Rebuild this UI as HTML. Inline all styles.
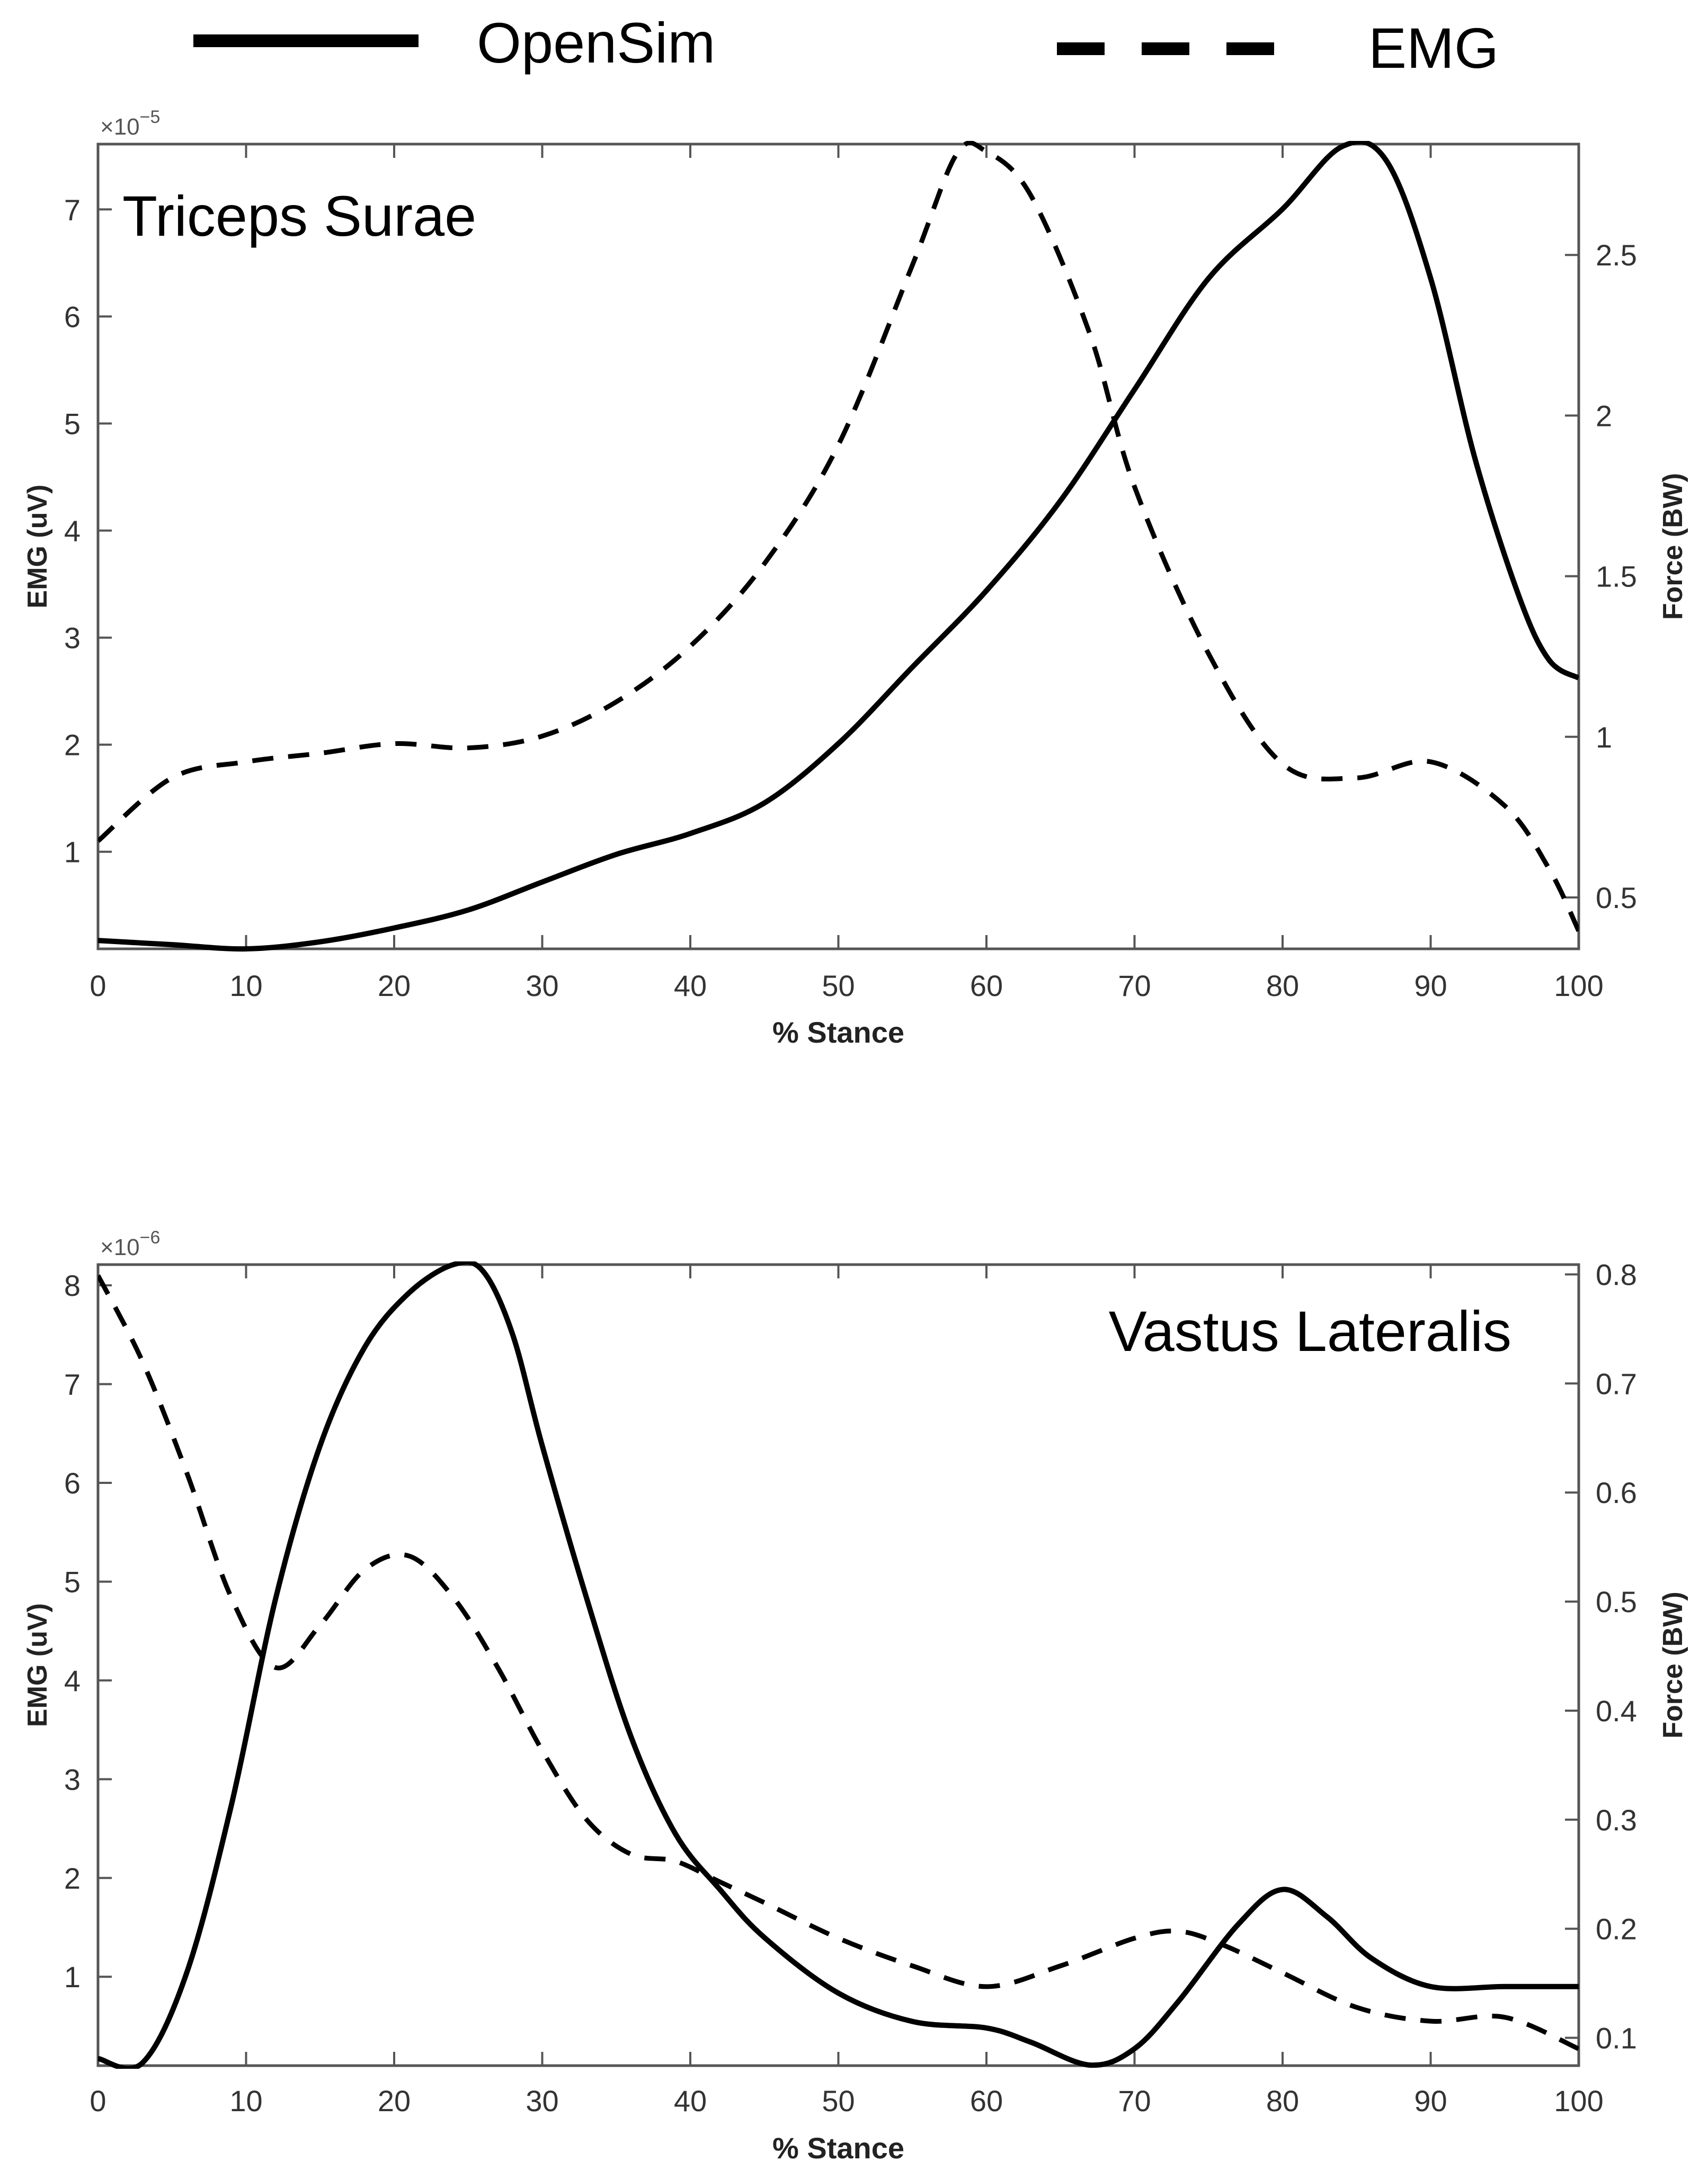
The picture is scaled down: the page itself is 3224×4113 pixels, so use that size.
<!DOCTYPE html>
<html><head><meta charset="utf-8"><style>
html,body{margin:0;padding:0;background:#fff;}
svg{display:block;font-family:"Liberation Sans",Arial,sans-serif;}
</style></head><body>
<svg id="fig" width="3224" height="4113" viewBox="0 0 3224 4113" xmlns="http://www.w3.org/2000/svg">
<g>
<line x1="365" y1="77" x2="790" y2="77" stroke="#000" stroke-width="24"/>
<text x="900" y="118" font-size="108">OpenSim</text>
<line x1="1995" y1="92" x2="2415" y2="92" stroke="#000" stroke-width="24" stroke-dasharray="90,70"/>
<text x="2583" y="128" font-size="108">EMG</text>
</g>
<g id="plots"></g>
</svg>
<script>
// ---- Data: Triceps Surae ----
const xTop = [0,5,10,15,20,25,30,35,40,45,50,55,60,65,70,75,80,84,87,90,93,96,98,100];
const forceTop = [0.366,0.353,0.340,0.362,0.405,0.461,0.548,0.634,0.699,0.794,0.979,1.217,1.455,1.735,2.081,2.427,2.643,2.837,2.794,2.427,1.865,1.433,1.239,1.183];
const xEmgTop = [0,5,10,15,20,25,30,35,40,45,50,55,58,60,63,67,70,75,80,85,90,95,98,100];
const emgTop = [1.10,1.69,1.84,1.92,2.01,1.97,2.08,2.40,2.92,3.69,4.80,6.48,7.52,7.54,7.13,5.83,4.41,2.85,1.82,1.69,1.84,1.43,0.84,0.26];
// ---- Data: Vastus Lateralis ----
const xBot = [0,3,6,9,12,15,18,21,24,26,28,30,33,36,39,42,45,50,55,60,63,67,70,73,77,80,83,86,90,95,100];
const forceBot = [0.081,0.077,0.160,0.313,0.503,0.643,0.733,0.783,0.809,0.803,0.745,0.643,0.503,0.376,0.287,0.236,0.192,0.141,0.115,0.109,0.096,0.075,0.090,0.134,0.204,0.236,0.211,0.173,0.147,0.147,0.147];
const xEmgBot = [0,3,6,9,12,15,18,21,24,27,30,33,36,39,42,45,50,55,60,65,70,73,76,80,85,90,95,100];
const emgBot = [8.10,7.23,6.10,4.84,4.13,4.56,5.12,5.26,4.84,4.13,3.29,2.59,2.24,2.17,1.96,1.75,1.39,1.11,0.90,1.11,1.39,1.46,1.32,1.04,0.69,0.55,0.59,0.27];
// ---- Tick labels ----
const xTicks = [0,10,20,30,40,50,60,70,80,90,100];
const leftTicksTop = [1,2,3,4,5,6,7];
const rightTicksTop = [0.5,1,1.5,2,2.5];
const leftTicksBot = [1,2,3,4,5,6,7,8];
const rightTicksBot = [0.1,0.2,0.3,0.4,0.5,0.6,0.7,0.8];

const NS="http://www.w3.org/2000/svg";
const root=document.getElementById('plots');
function mk(tag,attrs,parent){const e=document.createElementNS(NS,tag);for(const k in attrs)e.setAttribute(k,attrs[k]);(parent||root).appendChild(e);return e;}
function smooth(pts){let d='M'+pts[0][0]+','+pts[0][1];for(let i=0;i<pts.length-1;i++){const p0=pts[i-1]||pts[i],p1=pts[i],p2=pts[i+1],p3=pts[i+2]||p2;
d+=' C'+(p1[0]+(p2[0]-p0[0])/6)+','+(p1[1]+(p2[1]-p0[1])/6)+' '+(p2[0]-(p3[0]-p1[0])/6)+','+(p2[1]-(p3[1]-p1[1])/6)+' '+p2[0]+','+p2[1];}return d;}

function plot(cfg){
  const L=185,R=2980,T=cfg.top,B=cfg.bottom;
  const g=mk('g',{});
  
  
  const sx=v=>L+(v/100)*(R-L);
  const syL=v=>B-(v-cfg.lmin)/(cfg.lmax-cfg.lmin)*(B-T);
  const syR=v=>B-(v-cfg.rmin)/(cfg.rmax-cfg.rmin)*(B-T);
  const clip=mk('clipPath',{id:cfg.name+'-clip'},g);
  mk('rect',{x:L,y:T-6,width:R-L,height:B-T+12},clip);
  const box=mk('rect',{x:L,y:T,width:R-L,height:B-T,fill:'none',stroke:'#555',"stroke-width":5},g);
  
  
  xTicks.forEach(t=>{
    mk('line',{x1:sx(t),x2:sx(t),y1:B,y2:B-26,stroke:'#555','stroke-width':4},g);
    mk('line',{x1:sx(t),x2:sx(t),y1:T,y2:T+26,stroke:'#555','stroke-width':4},g);
    const tx=mk('text',{x:sx(t),y:cfg.xlabY,'font-size':56,'text-anchor':'middle',fill:'#333'},g);
    tx.textContent=t;
    
    
  });
  cfg.lticks.forEach(t=>{
    mk('line',{x1:L,x2:L+26,y1:syL(t),y2:syL(t),stroke:'#555','stroke-width':4},g);
    const tx=mk('text',{x:152,y:syL(t)+20,'font-size':56,'text-anchor':'end',fill:'#333'},g);
    tx.textContent=t;
    
    
  });
  cfg.rticks.forEach(t=>{
    mk('line',{x1:R,x2:R-26,y1:syR(t),y2:syR(t),stroke:'#555','stroke-width':4},g);
    const tx=mk('text',{x:3012,y:syR(t)+20,'font-size':56,fill:'#333'},g);
    tx.textContent=t;
    
    
  });
  const xt=mk('text',{x:(L+R)/2,y:cfg.xtitleY,'font-size':56,'font-weight':'bold','text-anchor':'middle',fill:'#222'},g);
  xt.textContent='% Stance';
  
  
  const yl=mk('text',{x:0,y:0,'font-size':52,'font-weight':'bold','text-anchor':'middle',fill:'#222',transform:'translate(88,'+((T+B)/2)+') rotate(-90)'},g);
  yl.textContent='EMG (uV)';
  
  
  const yr=mk('text',{x:0,y:0,'font-size':52,'font-weight':'bold','text-anchor':'middle',fill:'#222',transform:'translate(3175,'+((T+B)/2)+') rotate(-90)'},g);
  yr.textContent='Force (BW)';
  
  
  const ex=mk('text',{x:189,y:T-18,'font-size':44,fill:'#555'},g);
  ex.innerHTML='×10<tspan dy="-22" font-size="34">'+cfg.exp+'</tspan>';
  
  
  const ttl=mk('text',{x:cfg.titleX,y:cfg.titleY,'font-size':108,'text-anchor':cfg.titleAnchor,fill:'#000'},g);
  ttl.textContent=cfg.title;
  
  
  const pf=mk('path',{d:smooth(cfg.xf.map((x,i)=>[sx(x),syR(cfg.f[i])])),fill:'none',stroke:'#000','stroke-width':10,'clip-path':'url(#'+cfg.name+'-clip)'},g);
  
  
  const pe=mk('path',{d:smooth(cfg.xe.map((x,i)=>[sx(x),syL(cfg.e[i])])),fill:'none',stroke:'#000','stroke-width':9,'stroke-dasharray':'40,28','clip-path':'url(#'+cfg.name+'-clip)'},g);
  
  
}
plot({name:'triceps-surae-panel',top:272,bottom:1791,lmin:0.093,lmax:7.61,rmin:0.34,rmax:2.845,
  lticks:leftTicksTop,rticks:rightTicksTop,xlabY:1880,xtitleY:1968,exp:'−5',
  title:'Triceps Surae',titleX:231,titleY:445,titleAnchor:'start',xf:xTop,f:forceTop,xe:xEmgTop,e:emgTop});
plot({name:'vastus-lateralis-panel',top:2387,bottom:3899,lmin:0.10,lmax:8.21,rmin:0.0745,rmax:0.809,
  lticks:leftTicksBot,rticks:rightTicksBot,xlabY:3985,xtitleY:4074,exp:'−6',
  title:'Vastus Lateralis',titleX:2853,titleY:2550,titleAnchor:'end',xf:xBot,f:forceBot,xe:xEmgBot,e:emgBot});
</script>
</body></html>
